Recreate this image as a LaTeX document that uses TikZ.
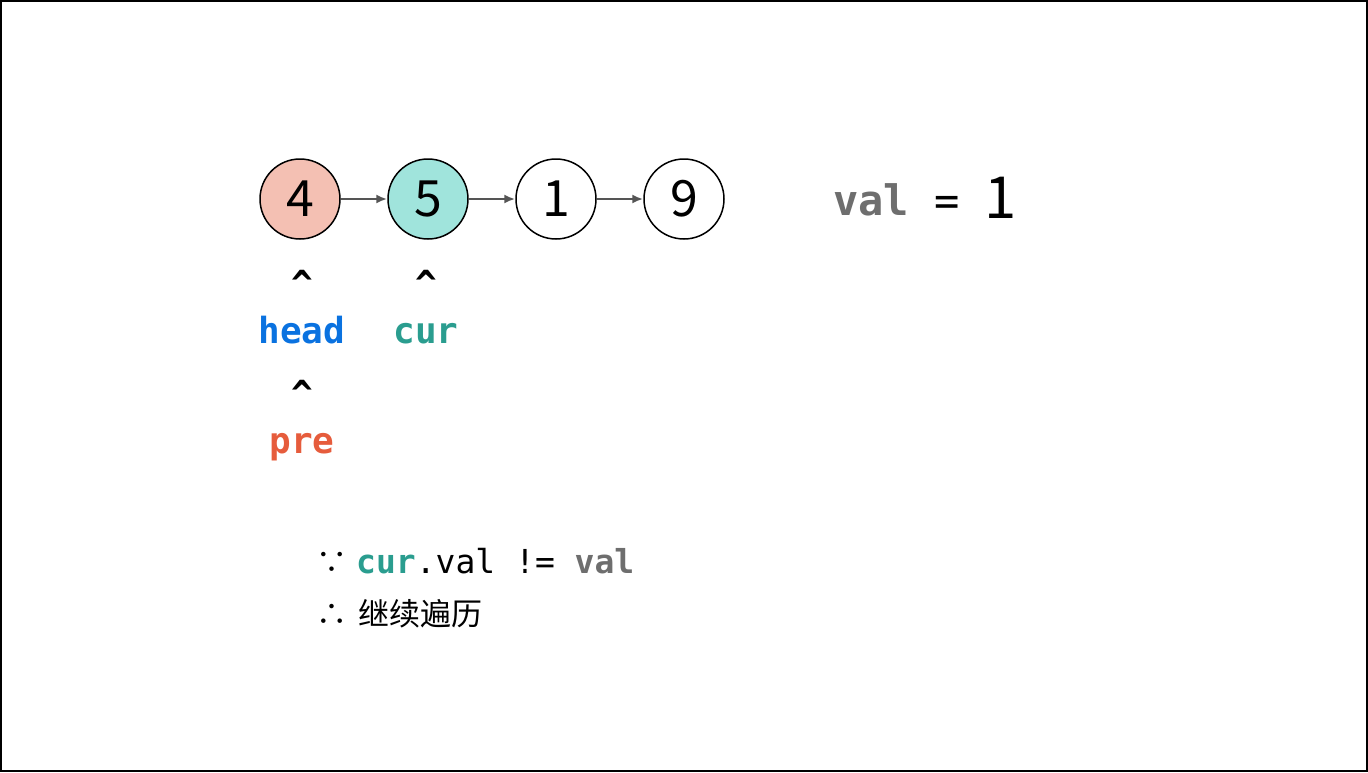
\documentclass[tikz,border=0pt]{standalone}
\usepackage{fontspec}
\setmainfont{Noto Sans CJK SC}
\setmonofont{DejaVu Sans Mono}
\newfontfamily\cjk{Noto Sans CJK SC}
\usetikzlibrary{arrows.meta}
\definecolor{pinkfill}{HTML}{F4C0B3}
\definecolor{tealfill}{HTML}{A0E4DC}
\definecolor{headblue}{HTML}{0A72E0}
\definecolor{curteal}{HTML}{2A9D8F}
\definecolor{prered}{HTML}{E65C3C}
\definecolor{valgray}{HTML}{6E6E6E}
\definecolor{arrowgray}{HTML}{555555}
\tikzset{
  listnode/.style={circle, draw=black, line width=1.5pt, minimum size=80pt, inner sep=0pt,
    font=\cjk\fontsize{50}{56}\selectfont},
  link/.style={draw=arrowgray, line width=2.5pt, -{Latex[length=11pt,width=9pt]}},
  ptr/.style={anchor=base, inner sep=0pt, font=\ttfamily\bfseries\fontsize{36}{40}\selectfont},
  code/.style={anchor=base west, inner sep=0pt, font=\ttfamily\fontsize{33}{36}\selectfont},
  sym/.style={anchor=base west, inner sep=0pt, font=\cjk\fontsize{31}{36}\selectfont}
}
\begin{document}
\begin{tikzpicture}[x=1pt,y=-1pt]
\useasboundingbox (0,0) rectangle (1368,772);
\draw[line width=2pt] (1,1) rectangle (1367,771);
\node[listnode, fill=pinkfill] (n4) at (300,199) {4};
\node[listnode, fill=tealfill] (n5) at (428,199) {5};
\node[listnode, fill=white] (n1) at (556,199) {1};
\node[listnode, fill=white] (n9) at (684,199) {9};
\draw[link] (n4) -- (n5);
\draw[link] (n5) -- (n1);
\draw[link] (n1) -- (n9);
\node[anchor=base west, inner sep=0pt, font=\ttfamily\fontsize{42}{46}\selectfont] (valeq) at (833,215) {\textbf{\textcolor{valgray}{val}} =};
\node[anchor=base west, inner sep=0pt, font=\cjk\fontsize{58}{64}\selectfont] (one) at (984,218) {1};
\node[ptr] (c1) at (302,296) {\^{}};
\node[ptr] (c2) at (426,296) {\^{}};
\node[ptr, text=headblue] (head) at (302,343) {head};
\node[ptr, text=curteal] (cur) at (426,343) {cur};
\node[ptr] (c3) at (302,406) {\^{}};
\node[ptr, text=prered] (pre) at (302,453) {pre};
\node[sym] (because) at (316,573) {∵};
\node[code] (cond) at (356,573) {\textbf{\textcolor{curteal}{cur}}.val != \textbf{\textcolor{valgray}{val}}};
\node[sym] (therefore) at (316,625) {∴};
\node[sym] (cont) at (358,625) {继续遍历};
\end{tikzpicture}
\end{document}
